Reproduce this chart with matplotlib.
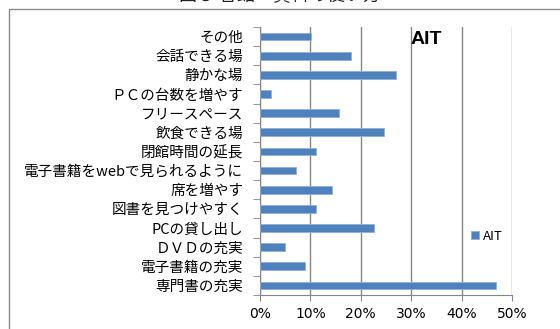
import matplotlib.pyplot as plt
import matplotlib.patches as mpatches
from matplotlib.ticker import FixedLocator, PercentFormatter

plt.rcParams['font.family'] = ['Noto Sans CJK JP', 'DejaVu Sans']

categories = ['専門書の充実', '電子書籍の充実', 'ＤＶＤの充実', 'PCの貸し出し',
              '図書を見つけやすく', '席を増やす', '電子書籍をwebで見られるように',
              '閉館時間の延長', '飲食できる場', 'フリースペース', 'ＰＣの台数を増やす',
              '静かな場', '会話できる場', 'その他']
ait = [46.8, 8.9, 4.9, 22.7, 11.2, 14.3, 7.2, 11.2, 24.7, 15.6, 2.2, 27.0, 18.0, 10.2]
xticks = [0, 10, 20, 30, 40, 50]

fig = plt.figure(figsize=(5.6, 3.29), dpi=100)
# outer chart frame (runs off the right and bottom edge)
fig.patches.append(mpatches.Rectangle((9 / 560, -0.1), 1.0, 1 - 9 / 329 + 0.1,
                                      transform=fig.transFigure, fill=False,
                                      edgecolor='#8c8c8c', linewidth=1.0))
fig.text(0.5, 1.0 + 4 / 329, '図５ 各館　資料の使い方', ha='center', va='center',
         fontsize=13, color='#222222')

ax = fig.add_axes([260 / 560, 1 - 295 / 329, 252 / 560, 268 / 329])
pos = list(range(len(categories)))
ax.barh(pos, ait, height=0.4, color='#4f81bd', edgecolor='#8fb0d8', linewidth=0.6,
        zorder=3, label='AIT')
ax.set_xlim(0, 50)
ax.set_ylim(-0.5, len(categories) - 0.5)
ax.set_xticks(xticks)
ax.xaxis.set_major_formatter(PercentFormatter(decimals=0))
ax.grid(axis='x', color='#868686', linewidth=1.0, zorder=0)
for s in ['top', 'right']:
    ax.spines[s].set_visible(False)
for s in ['left', 'bottom']:
    ax.spines[s].set_color('#868686')
ax.set_yticks(pos)
ax.set_yticklabels(categories, fontsize=10.5)
ax.yaxis.set_minor_locator(FixedLocator([i - 0.5 for i in range(len(categories) + 1)]))
ax.tick_params(axis='y', which='major', length=0, pad=12)
ax.tick_params(axis='y', which='minor', length=5, color='#868686')
ax.tick_params(axis='x', length=4, color='#868686', labelsize=10, pad=5)
for lbl in ax.get_xticklabels():
    lbl.set_fontfamily(['Liberation Sans Narrow', 'DejaVu Sans'])

ax.text(0.66, 0.955, 'AIT', transform=ax.transAxes, ha='center', va='center',
        fontsize=14, fontweight='bold', fontfamily='Liberation Sans')
ax.legend(loc='center left', bbox_to_anchor=(0.79, 0.22), frameon=False,
          handlelength=0.6, handleheight=0.6, handletextpad=0.3, fontsize=9.5)

fig.savefig('out.png', dpi=100)
